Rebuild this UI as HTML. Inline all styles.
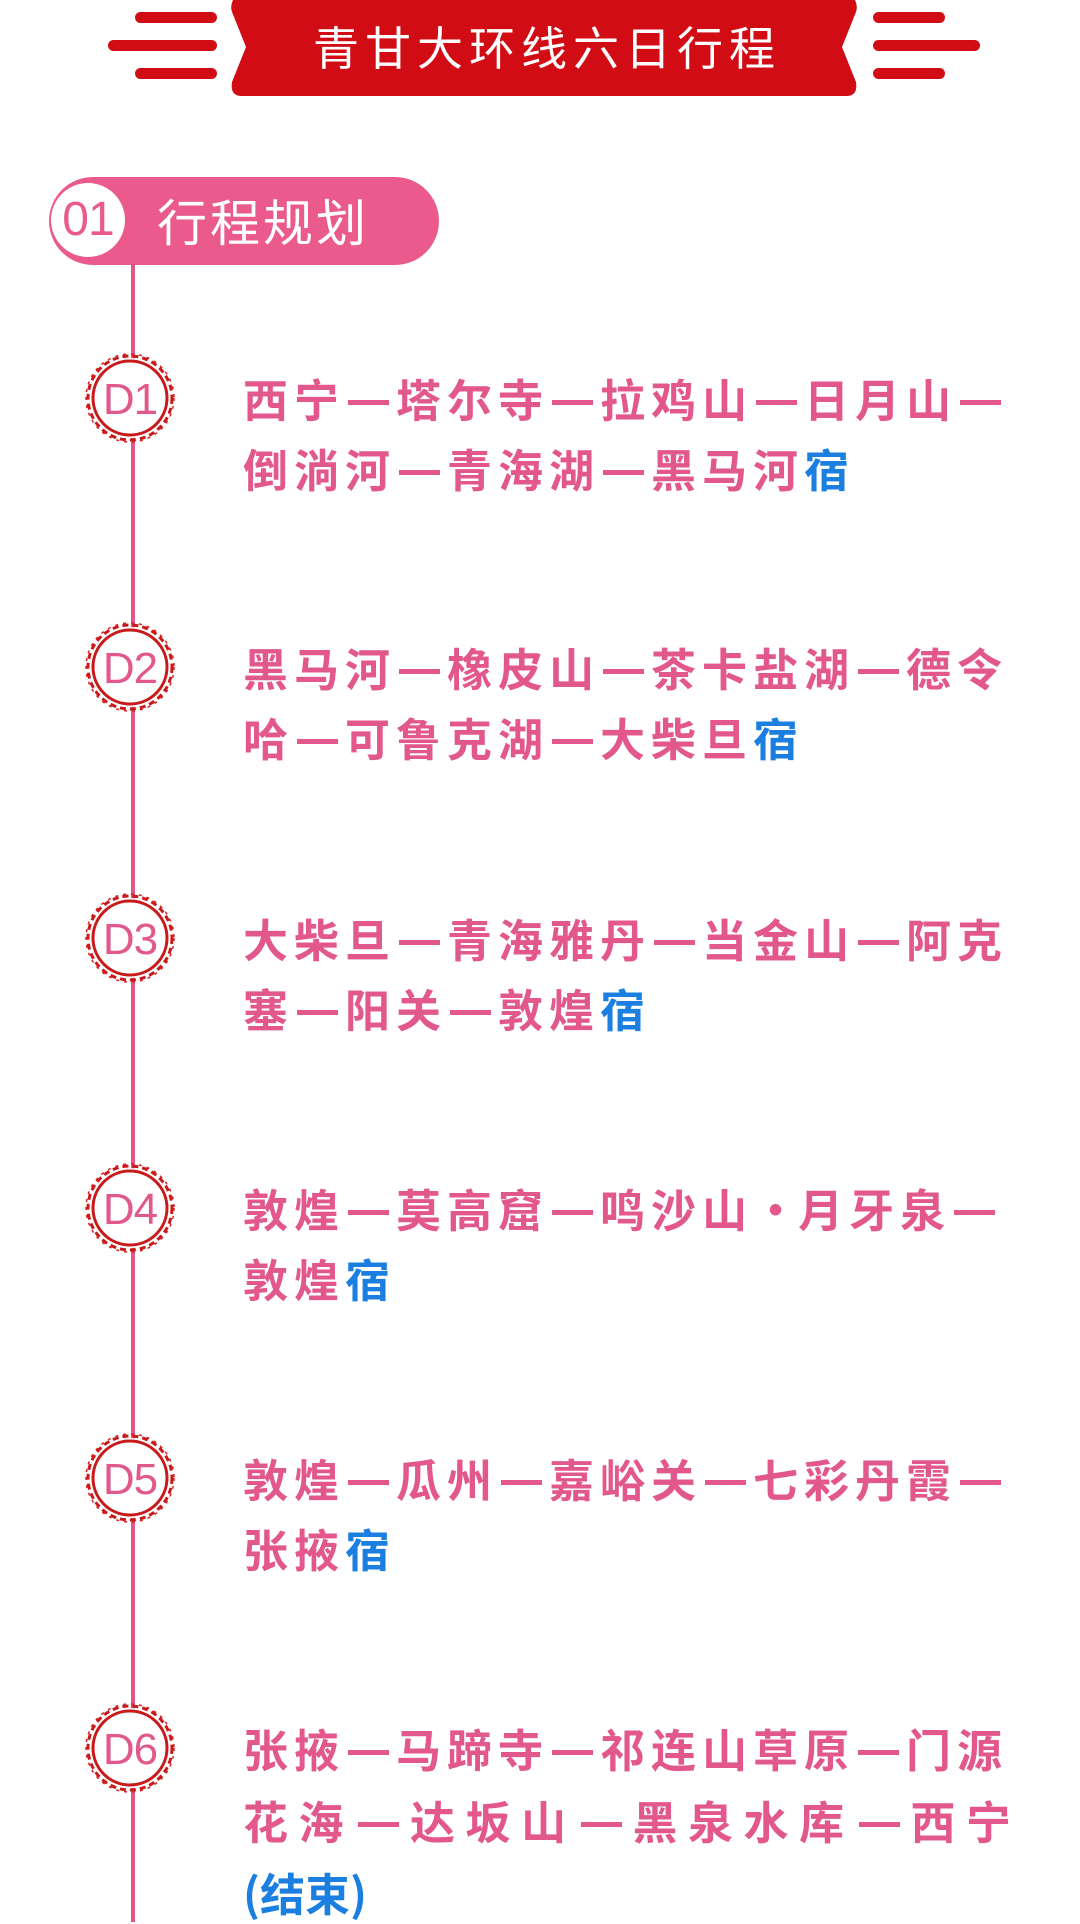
<!DOCTYPE html>
<html><head><meta charset="utf-8"><style>
html,body{margin:0;padding:0;background:#fff;}
body{width:1080px;height:1910px;position:relative;overflow:hidden;font-family:"Liberation Sans","Noto Sans CJK SC",sans-serif;}
.bar{position:absolute;height:11px;background:#d10c14;border-radius:6px;}
.line{position:absolute;left:243px;width:790px;font-family:"Noto Sans CJK SC",sans-serif;font-size:45px;font-weight:bold;color:#e3588c;height:60px;line-height:60px;white-space:nowrap;letter-spacing:6px;}
.d{display:inline-block;width:41px;height:5px;background:#e3588c;vertical-align:middle;position:relative;top:-2px;margin:0 7px 0 3px;font-size:0;letter-spacing:0;}
.b{color:#1a7fe0;}
.badge{position:absolute;left:84px;width:92px;height:92px;}
</style></head><body>
<div class="bar" style="left:135px;top:12px;width:82px"></div>
<div class="bar" style="left:108px;top:40px;width:109px"></div>
<div class="bar" style="left:135px;top:68px;width:82px"></div>
<div class="bar" style="left:873px;top:12px;width:72px"></div>
<div class="bar" style="left:873px;top:40px;width:107px"></div>
<div class="bar" style="left:873px;top:68px;width:72px"></div>
<svg style="position:absolute;left:0;top:0" width="1080" height="100">
<path d="M233,0 L855,0 Q858,6 856,12 L842,47 L856,82 Q858,95 848,96 L240,96 Q230,95 232,82 L246,47 L232,12 Q230,6 233,0Z" fill="#d10c14"/>
</svg>
<div style="position:absolute;left:233px;width:628px;top:0;height:92px;line-height:92px;text-align:center;color:#fff;font-family:'Noto Sans CJK SC',sans-serif;font-size:46px;letter-spacing:6px;">青甘大环线六日行程</div>
<div style="position:absolute;left:131px;top:262px;width:4px;height:1660px;background:#e0588a"></div>
<div style="position:absolute;left:49px;top:177px;width:390px;height:88px;background:#ea5a8d;border-radius:44px;"></div>
<div style="position:absolute;left:51px;top:183px;width:74px;height:74px;border-radius:50%;background:#fff;"></div>
<div style="position:absolute;left:51px;top:183px;width:74px;height:74px;line-height:74px;text-align:center;color:#ea5a8d;font-size:48px;letter-spacing:-1px;">01</div>
<div style="position:absolute;left:157px;top:183px;height:74px;line-height:74px;color:#fff;font-family:'Noto Sans CJK SC',sans-serif;font-size:50px;letter-spacing:3px;">行程规划</div>

<svg width="0" height="0" style="position:absolute"><defs>
<g id="bd">
<circle cx="46" cy="46" r="40" fill="#fff"/>
<circle cx="46" cy="46" r="42" fill="none" stroke="#c81a1a" stroke-width="3" stroke-dasharray="6 4"/>
<circle cx="46" cy="46" r="37" fill="none" stroke="#c81a1a" stroke-width="3"/>
<circle cx="46" cy="46" r="44" fill="none" stroke="#d22" stroke-width="1.5" stroke-dasharray="3 5"/>
</g></defs></svg>

<svg class="badge" style="top:352px" viewBox="0 0 92 92"><use href="#bd"/><text x="46" y="62" text-anchor="middle" font-size="44" letter-spacing="-1" fill="#e3588c" font-family="Liberation Sans">D1</text></svg>
<svg class="badge" style="top:621px" viewBox="0 0 92 92"><use href="#bd"/><text x="46" y="62" text-anchor="middle" font-size="44" letter-spacing="-1" fill="#e3588c" font-family="Liberation Sans">D2</text></svg>
<svg class="badge" style="top:892px" viewBox="0 0 92 92"><use href="#bd"/><text x="46" y="62" text-anchor="middle" font-size="44" letter-spacing="-1" fill="#e3588c" font-family="Liberation Sans">D3</text></svg>
<svg class="badge" style="top:1162px" viewBox="0 0 92 92"><use href="#bd"/><text x="46" y="62" text-anchor="middle" font-size="44" letter-spacing="-1" fill="#e3588c" font-family="Liberation Sans">D4</text></svg>
<svg class="badge" style="top:1432px" viewBox="0 0 92 92"><use href="#bd"/><text x="46" y="62" text-anchor="middle" font-size="44" letter-spacing="-1" fill="#e3588c" font-family="Liberation Sans">D5</text></svg>
<svg class="badge" style="top:1702px" viewBox="0 0 92 92"><use href="#bd"/><text x="46" y="62" text-anchor="middle" font-size="44" letter-spacing="-1" fill="#e3588c" font-family="Liberation Sans">D6</text></svg>

<div class="line" style="top:368px">西宁<span class="d">—</span>塔尔寺<span class="d">—</span>拉鸡山<span class="d">—</span>日月山<span class="d">—</span></div>
<div class="line" style="top:438px">倒淌河<span class="d">—</span>青海湖<span class="d">—</span>黑马河<span class="b">宿</span></div>
<div class="line" style="top:637px">黑马河<span class="d">—</span>橡皮山<span class="d">—</span>茶卡盐湖<span class="d">—</span>德令</div>
<div class="line" style="top:707px">哈<span class="d">—</span>可鲁克湖<span class="d">—</span>大柴旦<span class="b">宿</span></div>
<div class="line" style="top:908px">大柴旦<span class="d">—</span>青海雅丹<span class="d">—</span>当金山<span class="d">—</span>阿克</div>
<div class="line" style="top:978px">塞<span class="d">—</span>阳关<span class="d">—</span>敦煌<span class="b">宿</span></div>
<div class="line" style="top:1178px">敦煌<span class="d">—</span>莫高窟<span class="d">—</span>鸣沙山<span style="letter-spacing:0">·</span>月牙泉<span class="d">—</span></div>
<div class="line" style="top:1248px">敦煌<span class="b">宿</span></div>
<div class="line" style="top:1448px">敦煌<span class="d">—</span>瓜州<span class="d">—</span>嘉峪关<span class="d">—</span>七彩丹霞<span class="d">—</span></div>
<div class="line" style="top:1518px">张掖<span class="b">宿</span></div>
<div class="line" style="top:1718px">张掖<span class="d">—</span>马蹄寺<span class="d">—</span>祁连山草原<span class="d">—</span>门源</div>
<div class="line" style="top:1790px;letter-spacing:10.5px">花海<span class="d" style="margin-right:11px;margin-left:4px">—</span>达坂山<span class="d" style="margin-right:11px;margin-left:4px">—</span>黑泉水库<span class="d" style="margin-right:11px;margin-left:4px">—</span>西宁</div>
<div class="line" style="top:1862px;letter-spacing:0"><span class="b">(结束)</span></div>
</body></html>
